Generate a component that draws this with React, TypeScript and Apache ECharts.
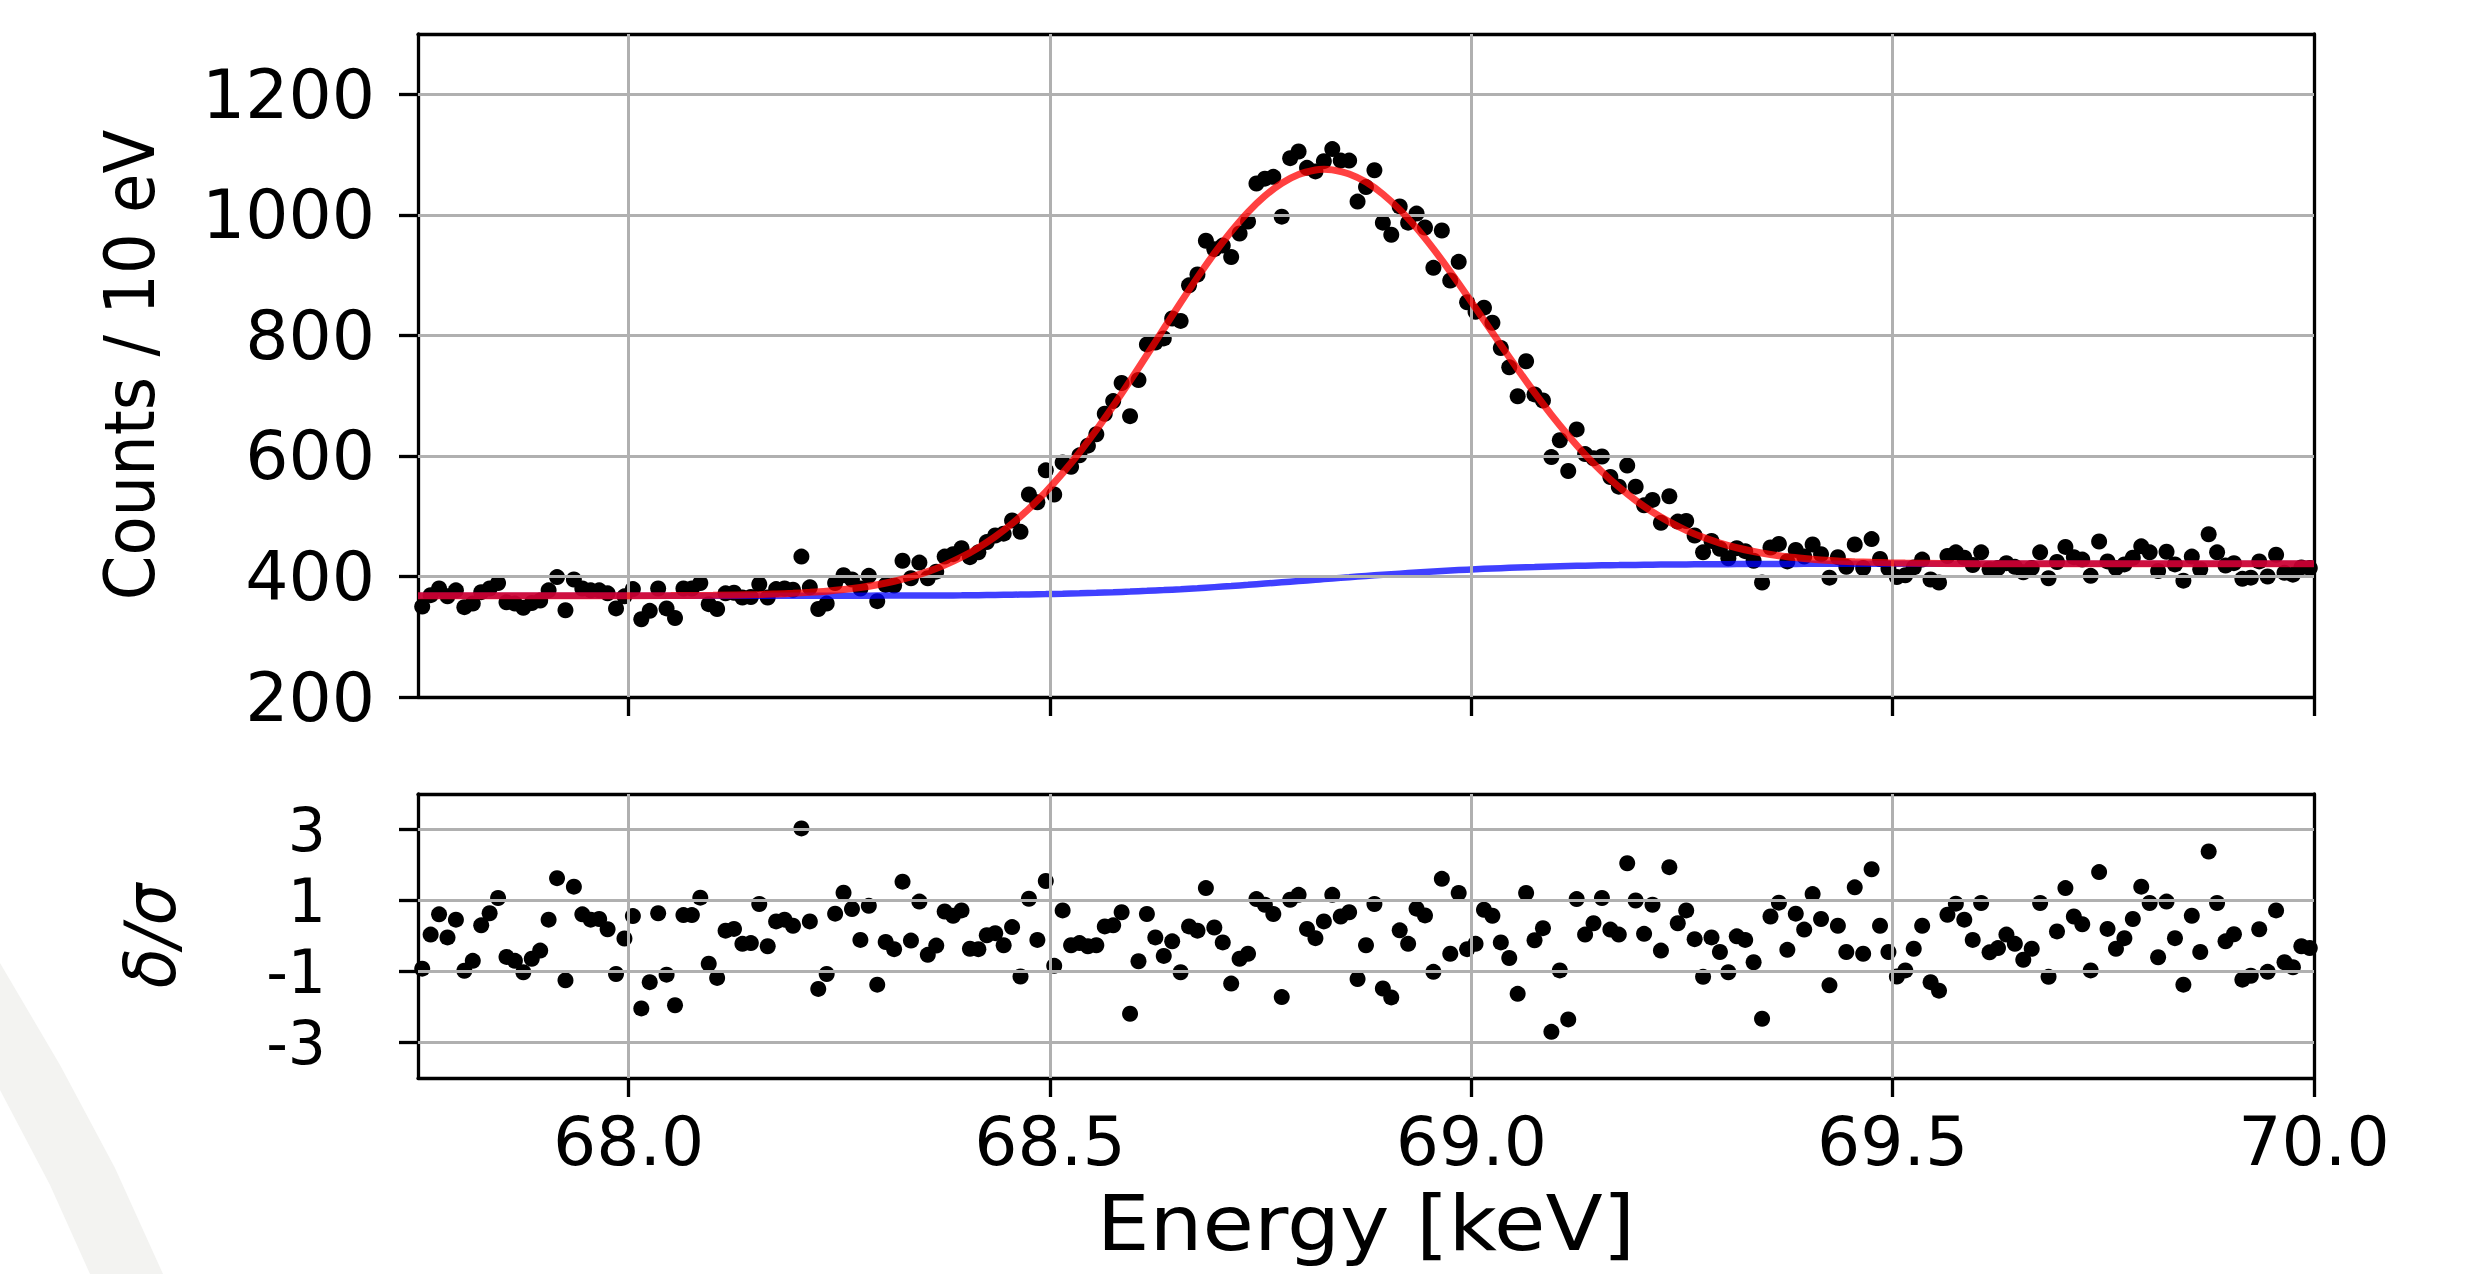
import React, { useEffect, useRef } from 'react';
import * as echarts from 'echarts';

// Histogram bins: 10 eV wide, first bin centre at 67.755 keV
const BIN_START = 67.755;
const BIN_WIDTH = 0.01;

// Counts per 10 eV bin
const counts = [
  350, 369, 380, 367, 377, 349, 355, 374, 380, 389,
  357, 355, 348, 356, 360, 377, 399, 344, 395, 380,
  377, 377, 372, 347, 367, 379, 329, 343, 380, 347,
  331, 380, 380, 389, 354, 346, 372, 373, 365, 366,
  387, 365, 379, 380, 378, 433, 382, 346, 355, 389,
  402, 395, 380, 401, 359, 386, 385, 426, 397, 423,
  397, 408, 433, 437, 447, 432, 440, 457, 468, 471,
  493, 474, 536, 523, 576, 536, 589, 582, 601, 617,
  636, 670, 691, 721, 666, 726, 785, 788, 795, 828,
  824, 883, 901, 957, 943, 949, 930, 969, 989, 1052,
  1060, 1063, 997, 1094, 1105, 1078, 1072, 1089, 1109, 1090,
  1090, 1022, 1046, 1074, 987, 967, 1014, 987, 1002, 979,
  912, 974, 891, 922, 855, 839, 846, 821, 779, 747,
  699, 757, 702, 692, 598, 626, 575, 644, 603, 596,
  599, 565, 549, 584, 549, 518, 527, 489, 533, 491,
  492, 468, 440, 459, 446, 430, 447, 442, 426, 390,
  448, 454, 425, 444, 433, 453, 437, 398, 432, 416,
  453, 414, 462, 429, 413, 399, 402, 415, 428, 395,
  390, 434, 440, 431, 419, 440, 412, 414, 422, 416,
  407, 414, 440, 397, 424, 449, 432, 428, 401, 458,
  425, 414, 420, 431, 450, 440, 409, 441, 420, 393,
  433, 412, 470, 440, 418, 422, 396, 398, 425, 400,
  436, 406, 403, 415, 414,
];

// Normalised residuals delta/sigma
const residuals = [
  -0.92, 0.04, 0.61, -0.04, 0.46, -0.98, -0.70, 0.30, 0.64, 1.07,
  -0.59, -0.70, -1.02, -0.64, -0.41, 0.46, 1.63, -1.25, 1.39, 0.61,
  0.46, 0.48, 0.19, -1.07, -0.07, 0.56, -2.04, -1.30, 0.64, -1.09,
  -1.95, 0.59, 0.59, 1.08, -0.78, -1.18, 0.15, 0.20, -0.22, -0.20,
  0.90, -0.29, 0.41, 0.46, 0.29, 3.03, 0.41, -1.49, -1.07, 0.63,
  1.22, 0.76, -0.11, 0.85, -1.37, -0.17, -0.37, 1.53, -0.13, 0.97,
  -0.53, -0.27, 0.69, 0.57, 0.72, -0.36, -0.37, 0.02, 0.08, -0.26,
  0.25, -1.14, 1.05, -0.11, 1.55, -0.84, 0.72, -0.26, -0.20, -0.29,
  -0.26, 0.27, 0.30, 0.67, -2.19, -0.71, 0.62, -0.04, -0.56, -0.15,
  -1.02, 0.27, 0.15, 1.35, 0.24, -0.18, -1.34, -0.64, -0.50, 1.04,
  0.88, 0.62, -1.72, 1.02, 1.16, 0.20, -0.06, 0.41, 1.16, 0.55,
  0.67, -1.21, -0.26, 0.90, -1.48, -1.73, 0.16, -0.22, 0.77, 0.58,
  -1.01, 1.61, -0.50, 1.21, -0.37, -0.22, 0.74, 0.57, -0.18, -0.62,
  -1.63, 1.21, -0.12, 0.22, -2.70, -0.97, -2.35, 1.04, 0.04, 0.36,
  1.07, 0.18, 0.04, 2.05, 1.00, 0.06, 0.88, -0.41, 1.94, 0.36,
  0.72, -0.09, -1.15, -0.04, -0.45, -1.02, -0.01, -0.11, -0.74, -2.33,
  0.55, 0.94, -0.39, 0.63, 0.18, 1.18, 0.48, -1.39, 0.29, -0.45,
  1.37, -0.50, 1.88, 0.29, -0.45, -1.14, -0.97, -0.36, 0.29, -1.30,
  -1.54, 0.60, 0.91, 0.46, -0.11, 0.93, -0.46, -0.34, 0.04, -0.22,
  -0.67, -0.36, 0.93, -1.15, 0.13, 1.35, 0.55, 0.33, -0.97, 1.80,
  0.20, -0.36, -0.06, 0.48, 1.39, 0.93, -0.60, 0.97, -0.06, -1.37,
  0.57, -0.45, 2.38, 0.93, -0.15, 0.05, -1.23, -1.12, 0.19, -1.01,
  0.72, -0.74, -0.88, -0.29, -0.34,
];

// Fit curves, sampled from the plot
const fitEnergy = [
  67.75, 67.85, 67.95, 68.05, 68.1,
  68.155, 68.175, 68.195, 68.215, 68.235, 68.255, 68.275, 68.295, 68.315, 68.335,
  68.355, 68.375, 68.395, 68.415, 68.435, 68.455, 68.475, 68.495, 68.515, 68.535,
  68.555, 68.575, 68.595, 68.615, 68.635, 68.655, 68.675, 68.695, 68.715, 68.735,
  68.755, 68.775, 68.795, 68.815, 68.825, 68.835, 68.855, 68.875, 68.895, 68.915,
  68.935, 68.955, 68.975, 68.995, 69.015, 69.035, 69.055, 69.075, 69.095, 69.115,
  69.135, 69.155, 69.175, 69.195, 69.215, 69.235, 69.255, 69.275, 69.295, 69.315,
  69.335, 69.355, 69.375, 69.395, 69.415, 69.435, 69.455, 69.475, 69.495, 69.515,
  69.6, 69.7, 69.8, 69.9, 70.0,
];
const fitTotal = [
  368, 368, 368, 368.3, 368.8,
  370.0, 370.9, 372.0, 373.6, 375.6, 378.3, 381.8, 386.3, 392.0, 399.2,
  408.0, 418.8, 431.9, 447.7, 466.1, 487.6, 512.4, 540.3, 571.4, 605.7,
  642.9, 682.7, 724.4, 767.4, 811.0, 854.2, 896.2, 936.0, 972.3, 1004.5,
  1031.4, 1052.4, 1066.8, 1074.3, 1075.4, 1074.6, 1067.8, 1054.3, 1034.3, 1008.6,
  978.0, 943.4, 905.6, 865.9, 825.0, 784.1, 743.8, 704.9, 668.1, 633.9,
  602.3, 573.8, 548.5, 526.2, 506.9, 490.5, 476.5, 464.9, 455.4, 447.6,
  441.4, 436.5, 432.6, 429.7, 427.4, 425.6, 424.4, 423.4, 422.7, 422.2,
  421.2, 421, 421, 421, 421,
];
const fitBackground = [
  368, 368, 368, 368, 368,
  368.0, 368.0, 368.0, 368.1, 368.1, 368.1, 368.1, 368.2, 368.2, 368.3,
  368.4, 368.5, 368.7, 369.0, 369.3, 369.7, 370.2, 370.7, 371.3, 372.0,
  372.8, 373.8, 374.9, 376.1, 377.4, 378.9, 380.5, 382.3, 384.1, 386.1,
  388.2, 390.3, 392.4, 394.5, 395.6, 396.6, 398.7, 400.8, 402.8, 404.7,
  406.5, 408.2, 409.8, 411.3, 412.6, 413.8, 414.8, 415.7, 416.6, 417.3,
  417.9, 418.4, 418.8, 419.2, 419.5, 419.8, 420.0, 420.2, 420.4, 420.5,
  420.6, 420.7, 420.8, 420.9, 420.9, 421.0, 421.0, 421.0, 421.0, 421.0,
  421, 421, 421, 421, 421,
];

const xTicks = [68.0, 68.5, 69.0, 69.5, 70.0];
const xGridLines = [68.0, 68.5, 69.0, 69.5];
const countTicks = [200, 400, 600, 800, 1000, 1200];
const countGridLines = [400, 600, 800, 1000, 1200];
const residualTicks = [-3, -1, 1, 3];

const FONT = 'DejaVu Sans';

export default function App() {
  const ref = useRef<HTMLDivElement>(null);

  useEffect(() => {
    if (!ref.current) return;
    const chart = echarts.init(ref.current, null, { renderer: 'svg' });

    const energies = counts.map((_, i) => Number((BIN_START + i * BIN_WIDTH).toFixed(3)));
    const countPts = energies.map((e, i) => [e, counts[i]]);
    const residPts = energies.map((e, i) => [e, residuals[i]]);
    const totalPts = fitEnergy.map((e, i) => [e, fitTotal[i]]);
    const bgPts = fitEnergy.map((e, i) => [e, fitBackground[i]]);

    const spine = { show: true, onZero: false, lineStyle: { color: '#000', width: 3.3 } };
    const tickStyle = { color: '#000', width: 3.3 };
    const labelBase = { fontFamily: FONT, fontSize: 68, color: '#000' };
    const hidden = { show: false };

    const gridLineStyle = { color: '#b0b0b0', width: 3, type: 'solid' as const, opacity: 1 };
    const dotStyle = { color: '#000', opacity: 1 };

    const option: any = {
      animation: false,
      backgroundColor: '#fff',
      grid: [
        { left: 418, top: 34, width: 1896, height: 663, show: false },
        { left: 418, top: 794, width: 1896, height: 284, show: false },
      ],
      xAxis: [
        {
          gridIndex: 0, type: 'value', min: 67.75, max: 70, position: 'bottom',
          axisLine: spine,
          axisTick: { show: true, inside: false, length: 19, customValues: xTicks, lineStyle: tickStyle },
          axisLabel: hidden, splitLine: hidden,
        },
        {
          gridIndex: 0, type: 'value', min: 67.75, max: 70, position: 'top',
          axisLine: spine, axisTick: hidden, axisLabel: hidden, splitLine: hidden,
        },
        {
          gridIndex: 1, type: 'value', min: 67.75, max: 70, position: 'bottom',
          axisLine: spine,
          axisTick: { show: true, inside: false, length: 19, customValues: xTicks, lineStyle: tickStyle },
          axisLabel: {
            ...labelBase, show: true, customValues: xTicks, margin: 29,
            formatter: (v: number) => v.toFixed(1),
          },
          splitLine: hidden,
        },
        {
          gridIndex: 1, type: 'value', min: 67.75, max: 70, position: 'top',
          axisLine: spine, axisTick: hidden, axisLabel: hidden, splitLine: hidden,
        },
      ],
      yAxis: [
        {
          gridIndex: 0, type: 'value', min: 200, max: 1300, position: 'left',
          axisLine: spine,
          axisTick: { show: true, inside: false, length: 19, customValues: countTicks, lineStyle: tickStyle },
          axisLabel: { ...labelBase, show: true, customValues: countTicks, margin: 43, formatter: (v: number) => String(v) },
          splitLine: hidden,
        },
        {
          gridIndex: 0, type: 'value', min: 200, max: 1300, position: 'right',
          axisLine: spine, axisTick: hidden, axisLabel: hidden, splitLine: hidden,
        },
        {
          gridIndex: 1, type: 'value', min: -4, max: 4, position: 'left',
          axisLine: spine,
          axisTick: { show: true, inside: false, length: 19, customValues: residualTicks, lineStyle: tickStyle },
          axisLabel: {
            ...labelBase, fontSize: 60, lineHeight: 60, show: true, customValues: residualTicks, margin: 92,
            formatter: (v: number) => (v < 0 ? '-' + Math.abs(v) : String(v)),
          },
          splitLine: hidden,
        },
        {
          gridIndex: 1, type: 'value', min: -4, max: 4, position: 'right',
          axisLine: spine, axisTick: hidden, axisLabel: hidden, splitLine: hidden,
        },
      ],
      series: [
        {
          type: 'line', xAxisIndex: 0, yAxisIndex: 0, data: [], z: 1, silent: true,
          markLine: {
            silent: true, symbol: ['none', 'none'], label: { show: false },
            lineStyle: gridLineStyle, emphasis: { disabled: true },
            data: [
              ...xGridLines.map((v) => ({ xAxis: v })),
              ...countGridLines.map((v) => ({ yAxis: v })),
            ],
          },
        },
        {
          type: 'line', xAxisIndex: 2, yAxisIndex: 2, data: [], z: 1, silent: true,
          markLine: {
            silent: true, symbol: ['none', 'none'], label: { show: false },
            lineStyle: gridLineStyle, emphasis: { disabled: true },
            data: [
              ...xGridLines.map((v) => ({ xAxis: v })),
              ...residualTicks.map((v) => ({ yAxis: v })),
            ],
          },
        },
        {
          name: 'data', type: 'scatter', xAxisIndex: 0, yAxisIndex: 0, data: countPts,
          symbol: 'circle', symbolSize: 16, itemStyle: dotStyle, z: 3, silent: true,
        },
        {
          name: 'background', type: 'line', xAxisIndex: 0, yAxisIndex: 0, data: bgPts,
          showSymbol: false, smooth: 0.3, z: 4, silent: true,
          lineStyle: { color: 'rgba(0,0,255,0.75)', width: 6.5 },
        },
        {
          name: 'fit', type: 'line', xAxisIndex: 0, yAxisIndex: 0, data: totalPts,
          showSymbol: false, smooth: 0.3, z: 5, silent: true,
          lineStyle: { color: 'rgba(255,0,0,0.75)', width: 7 },
        },
        {
          name: 'residuals', type: 'scatter', xAxisIndex: 2, yAxisIndex: 2, data: residPts,
          symbol: 'circle', symbolSize: 16, itemStyle: dotStyle, z: 3, silent: true,
        },
      ],
      graphic: [
        {
          type: 'polygon', z: -10, silent: true,
          shape: { points: [[0, 963], [60, 1065], [115, 1168], [163, 1274], [90, 1274], [50, 1185], [0, 1090]] },
          style: { fill: '#f3f3f1' },
        },
        {
          type: 'text', x: 130, y: 365, rotation: Math.PI / 2, scaleY: 1.08, silent: true,
          style: {
            text: 'Counts / 10 eV', fill: '#000', font: `64px "${FONT}"`,
            align: 'center', verticalAlign: 'middle', textAlign: 'center', textVerticalAlign: 'middle',
          },
        },
        {
          type: 'text', x: 150, y: 936, rotation: Math.PI / 2, scaleY: 1.08, silent: true,
          style: {
            text: 'δ/σ', fill: '#000', font: `italic 66px "${FONT}"`,
            align: 'center', verticalAlign: 'middle', textAlign: 'center', textVerticalAlign: 'middle',
          },
        },
        {
          type: 'text', x: 1366, y: 1224, scaleX: 1.1, silent: true,
          style: {
            text: 'Energy [keV]', fill: '#000', font: `76px "${FONT}"`,
            align: 'center', verticalAlign: 'middle', textAlign: 'center', textVerticalAlign: 'middle',
          },
        },
      ],
    };

    chart.setOption(option);
    return () => chart.dispose();
  }, []);

  return (
    <div
      ref={ref}
      style={{ position: 'fixed', left: 0, top: 0, width: 2481, height: 1274, background: '#fff' }}
    />
  );
}
